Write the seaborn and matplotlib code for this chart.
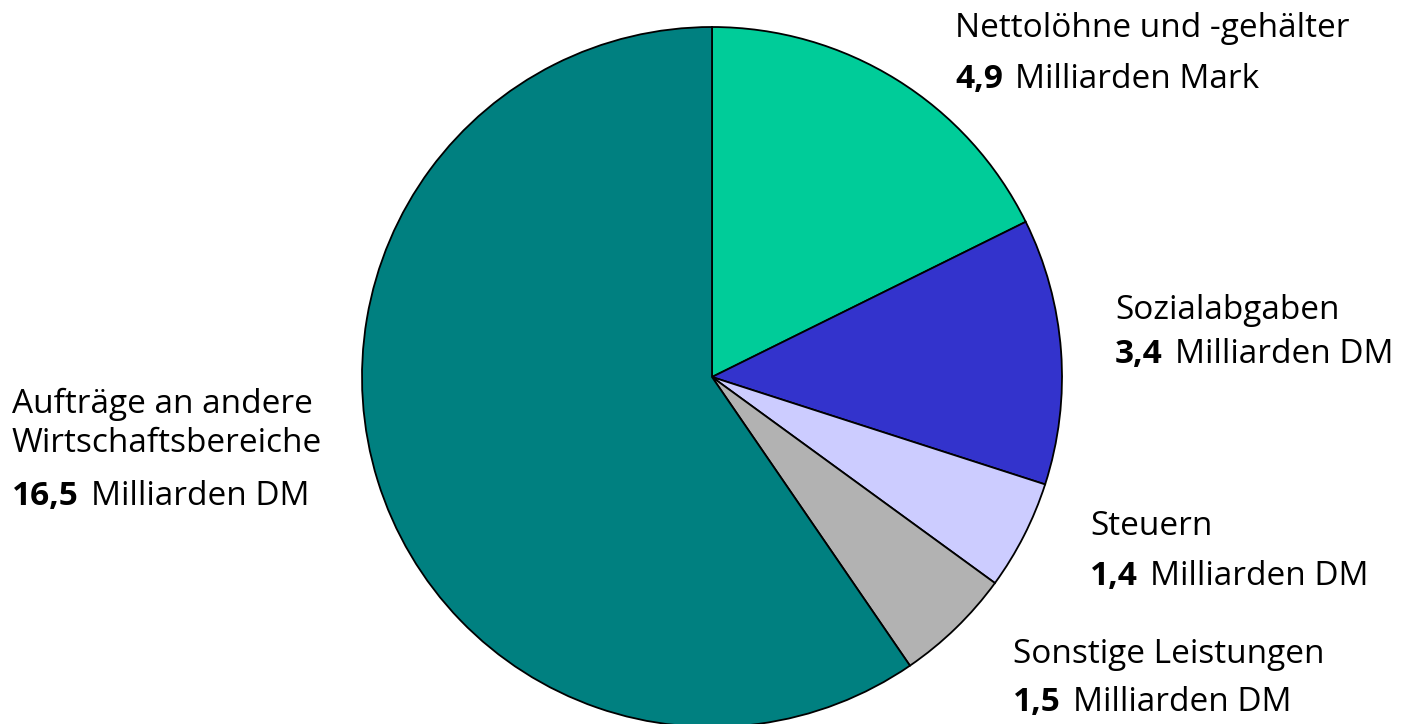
import matplotlib
matplotlib.use("Agg")
import matplotlib.pyplot as plt
import seaborn as sns

# values, clockwise from 12 o'clock
categories = ["Nettolöhne und -gehälter", "Sozialabgaben", "Steuern",
              "Sonstige Leistungen", "Aufträge an andere\nWirtschaftsbereiche"]
values = [4.9, 3.4, 1.4, 1.5, 16.5]
value_labels = ["4,9", "3,4", "1,4", "1,5", "16,5"]
units = ["Milliarden Mark", "Milliarden DM", "Milliarden DM",
         "Milliarden DM", "Milliarden DM"]
colors = ["#00CC99", "#3333CC", "#CCCCFF", "#B2B2B2", "#008080"]

sns.set_theme(style="white")
plt.rcParams['font.family'] = ['Open Sans', 'DejaVu Sans']

W, H = 1416, 724
fig = plt.figure(figsize=(W / 100, H / 100), dpi=100)

# pie: centre (712, 377) px, radius 350 px
cx, cy, r = 712, 377, 350
ax = fig.add_axes([(cx - r) / W, (H - cy - r) / H, 2 * r / W, 2 * r / H])
ax.pie(values, colors=colors, startangle=90, counterclock=False,
       wedgeprops=dict(edgecolor="black", linewidth=1.3))
ax.set_xlim(-1, 1)
ax.set_ylim(-1, 1)
ax.set_aspect("equal")
ax.axis("off")

# label layout: left x and line baselines (px from top)
label_x = [955, 1115, 1090, 1013, 12]
baselines = [[37, 88], [319, 363], [535, 585], [663, 711], [413, 452, 505]]
fs = 24

for cat, val, unit, x, ys in zip(categories, value_labels, units,
                                 label_x, baselines):
    lines = cat.split("\n")
    for line, y in zip(lines, ys):
        fig.text(x / W, 1 - y / H, line, fontsize=fs,
                 va="baseline", ha="left", color="black")
    yb = ys[-1]
    t = fig.text(x / W, 1 - yb / H, val, fontsize=fs, fontweight="bold",
                 va="baseline", ha="left", color="black")
    fig.canvas.draw()
    bb = t.get_window_extent()
    fig.text((bb.x1 + 12) / W, 1 - yb / H, unit, fontsize=fs,
             va="baseline", ha="left", color="black")

fig.savefig("out.png", dpi=100)
